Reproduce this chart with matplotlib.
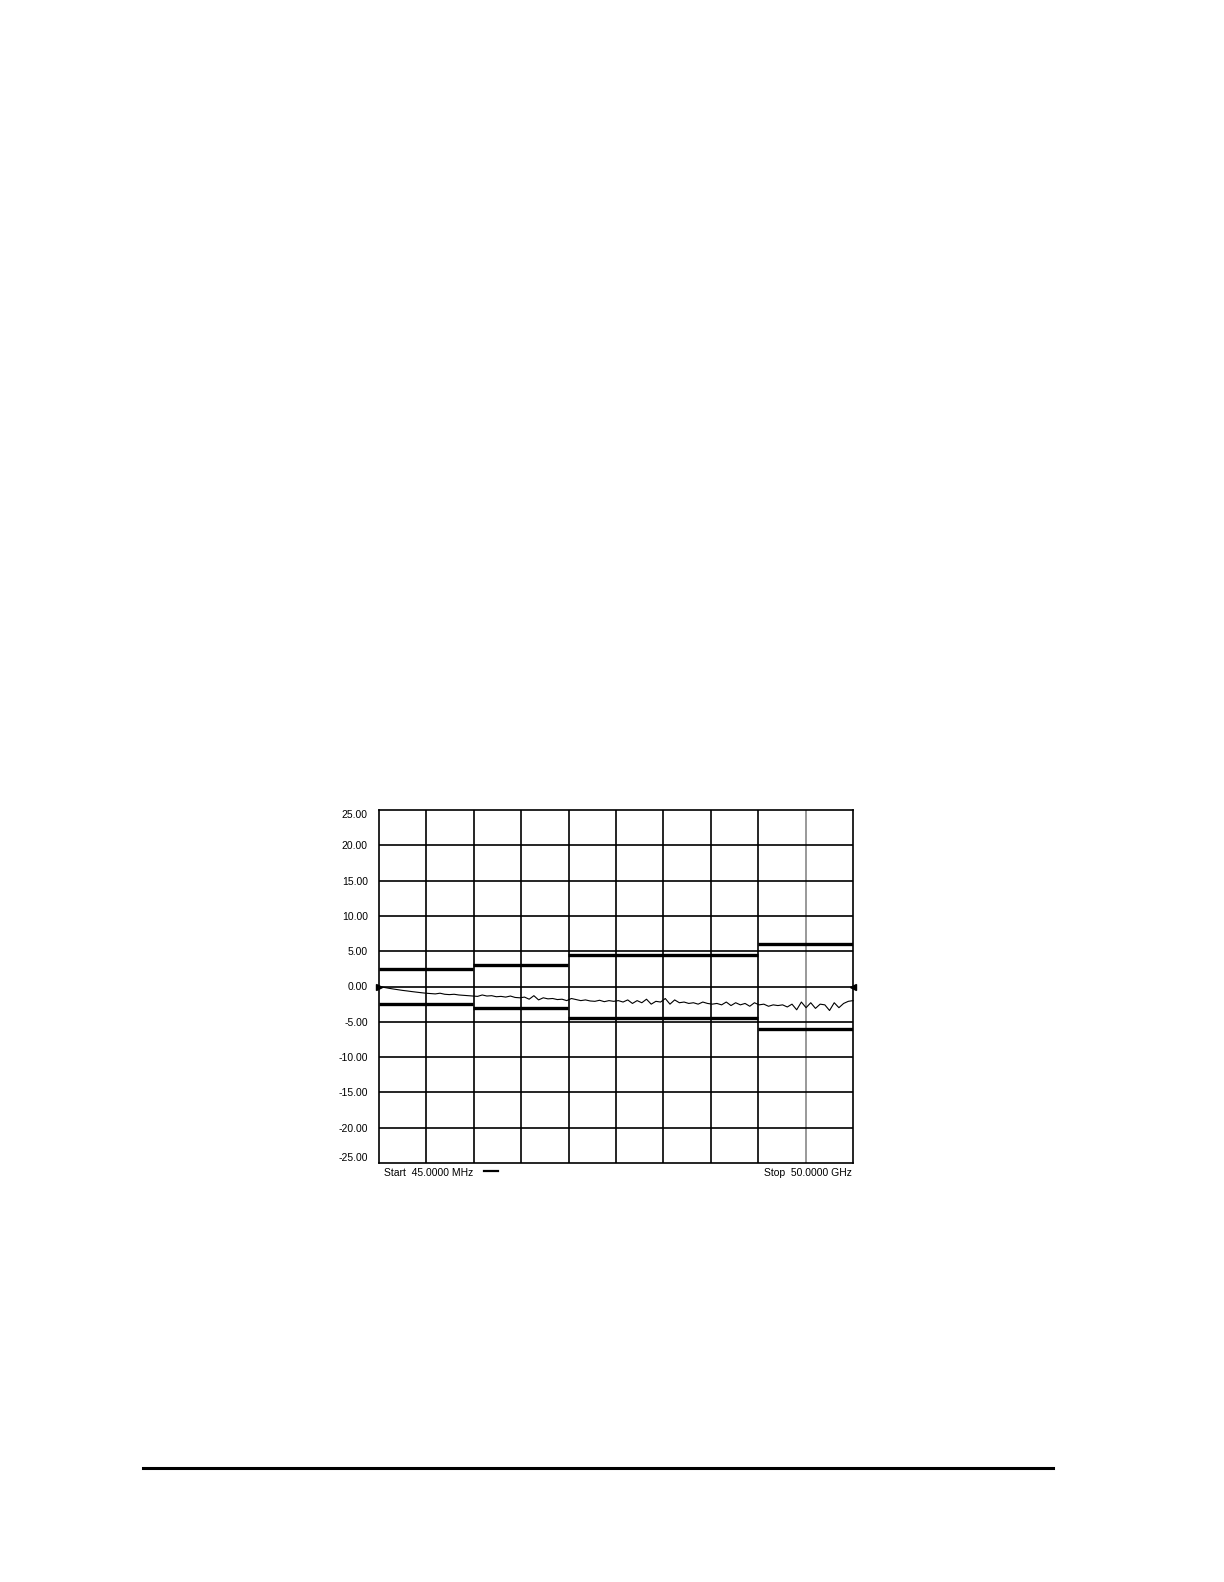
import numpy as np
import matplotlib
matplotlib.use("Agg")
import matplotlib.pyplot as plt
from matplotlib.lines import Line2D

plt.rcParams['font.family'] = ['Liberation Sans', 'DejaVu Sans']

# ---- data ----
f_start_ghz = 0.045
f_stop_ghz = 50.0
y_ticks = [25, 20, 15, 10, 5, 0, -5, -10, -15, -20, -25]
y_tick_labels = ["25.00", "20.00", "15.00", "10.00", "5.00", "0.00",
                 "-5.00", "-10.00", "-15.00", "-20.00", "-25.00"]

limit_edges_ghz = [0.045, 10.0, 20.0, 40.0, 50.0]
upper_limits = [2.5, 3.0, 4.5, 6.0]
lower_limits = [-2.5, -3.0, -4.5, -6.0]

trace_db = [
    0.00, -0.12, -0.24, -0.35, -0.45, -0.55, -0.63, -0.72, -0.80, -0.88,
    -0.95, -1.00, -1.05, -0.95, -1.10, -1.15, -1.10, -1.20, -1.25, -1.30,
    -1.35, -1.40, -1.20, -1.35, -1.30, -1.45, -1.40, -1.50, -1.35, -1.55,
    -1.60, -1.50, -1.80, -1.30, -1.90, -1.60, -1.75, -1.70, -1.85, -1.80,
    -2.00, -1.70, -1.85, -2.00, -1.90, -2.05, -2.10, -1.95, -2.15, -2.00,
    -2.10, -2.00, -2.20, -1.90, -2.40, -2.00, -2.30, -1.80, -2.50, -2.10,
    -2.20, -1.70, -2.50, -1.90, -2.30, -2.20, -2.40, -2.30, -2.50, -2.20,
    -2.40, -2.50, -2.40, -2.60, -2.20, -2.70, -2.30, -2.60, -2.40, -2.80,
    -2.30, -2.60, -2.50, -2.80, -2.60, -2.70, -2.60, -2.90, -2.50, -3.30,
    -2.20, -3.00, -2.30, -3.10, -2.50, -2.60, -3.40, -2.30, -3.00, -2.40,
    -2.10, -2.00,
]

n_div = 10
gray_div = 9

# ---- figure ----
W, H = 1224, 1582
fig = plt.figure(figsize=(W / 100, H / 100), dpi=100)
L, R, T, B = 379, 853, 810, 1163
ax = fig.add_axes([L / W, 1 - B / H, (R - L) / W, (B - T) / H])

freq = np.linspace(f_start_ghz, f_stop_ghz, len(trace_db))
ax.set_xlim(f_start_ghz, f_stop_ghz)
ax.set_ylim(-25, 25)

# grid
xgrid = np.linspace(f_start_ghz, f_stop_ghz, n_div + 1)
for i, xv in enumerate(xgrid[1:-1], start=1):
    ax.axvline(xv, color=('#888888' if i == gray_div else 'black'), lw=1.2, zorder=1)
for yv in y_ticks[1:-1]:
    ax.axhline(yv, color='black', lw=1.2, zorder=1)

# limit lines
for i in range(len(upper_limits)):
    ax.plot([limit_edges_ghz[i], limit_edges_ghz[i + 1]], [upper_limits[i]] * 2,
            color='black', lw=2.4, solid_capstyle='butt', zorder=3)
    ax.plot([limit_edges_ghz[i], limit_edges_ghz[i + 1]], [lower_limits[i]] * 2,
            color='black', lw=2.4, solid_capstyle='butt', zorder=3)

# trace
ax.plot(freq, trace_db, color='black', lw=0.8, zorder=4, clip_on=False)

# reference markers
ax.plot([f_start_ghz], [0], marker='>', color='black', markersize=5, clip_on=False, zorder=5)
ax.plot([f_stop_ghz], [0], marker='<', color='black', markersize=5, clip_on=False, zorder=5)

ax.set_xticks([])
ax.set_yticks(y_ticks)
ax.set_yticklabels(y_tick_labels, fontsize=7.5)
ax.tick_params(axis='y', length=0, pad=8)
labs = ax.get_yticklabels()
labs[0].set_va('top')
labs[-1].set_va('bottom')
for s in ax.spines.values():
    s.set_linewidth(1.2)
    s.set_color('black')

# footer texts
ax.text(0.011, -0.028, "Start  45.0000 MHz", transform=ax.transAxes,
        fontsize=7.5, ha='left', va='center')
ax.plot([0.222, 0.252], [-0.024, -0.024], transform=ax.transAxes,
        color='black', lw=1.6, clip_on=False)
ax.text(0.998, -0.028, "Stop  50.0000 GHz", transform=ax.transAxes,
        fontsize=7.5, ha='right', va='center')

# page rule
fig.add_artist(Line2D([143 / W, 1053 / W], [1 - 1468 / H, 1 - 1468 / H],
                      color='black', lw=2.2))

fig.savefig("out.png", dpi=100)
